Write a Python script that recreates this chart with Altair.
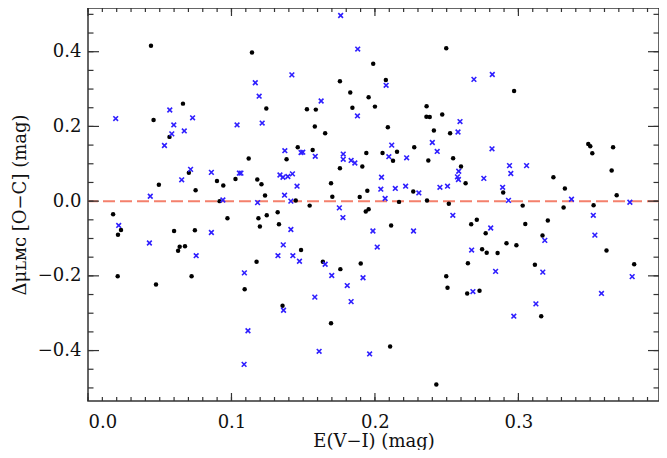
import altair as alt
import pandas as pd

# black filled dots
dot_x = [0.0439, 0.0457, 0.0494, 0.0568, 0.0662, 0.0703, 0.0750, 0.0899, 0.0917, 0.0943,
         0.1028, 0.1120, 0.1143, 0.1180, 0.1209, 0.1234, 0.1243,
         0.1988, 0.1756, 0.2076, 0.1828, 0.1956, 0.1526, 0.1588, 0.1843, 0.2000,
         0.1581, 0.1653, 0.2090, 0.2360, 0.2359, 0.2382, 0.2469, 0.2497, 0.2411,
         0.2524, 0.2274, 0.1462, 0.1566, 0.1384, 0.1940, 0.2053, 0.2154, 0.2126,
         0.2372, 0.2545, 0.2600, 0.2632, 0.1756, 0.1912, 0.1448, 0.1545, 0.1694,
         0.1703, 0.1894, 0.1947, 0.1956, 0.2168, 0.2267, 0.2363, 0.2515,
         0.2970, 0.2894, 0.3030, 0.3244, 0.3324, 0.3315, 0.3487, 0.3501, 0.3515,
         0.3660, 0.3650, 0.3685, 0.3524,
         0.0175, 0.0209, 0.0230, 0.0207, 0.0474, 0.0600, 0.0628, 0.0639, 0.0676,
         0.0745, 0.0722, 0.0972, 0.1188, 0.1198, 0.1246, 0.1175, 0.1092,
         0.1322, 0.1331, 0.1485, 0.1637, 0.1759, 0.1901, 0.1356, 0.1694, 0.2106,
         0.2428, 0.1936, 0.2113, 0.2497, 0.2506,
         0.2671, 0.2710, 0.2772, 0.2747, 0.2779, 0.2855, 0.2917, 0.2986, 0.2648,
         0.2643, 0.2729, 0.3048, 0.3205, 0.3168, 0.3115, 0.3159, 0.3614, 0.3807]
dot_y = [0.416, 0.217, 0.044, 0.172, 0.261, 0.076, 0.029, 0.054, 0.000, 0.042,
         0.059, 0.114, 0.398, 0.058, 0.045, 0.015, 0.248,
         0.368, 0.321, 0.324, 0.291, 0.278, 0.246, 0.245, 0.250, 0.253,
         0.200, 0.182, 0.198, 0.254, 0.226, 0.225, 0.232, 0.409, 0.189,
         0.182, 0.144, 0.144, 0.137, 0.112, 0.129, 0.129, 0.132, 0.108,
         0.109, 0.115, 0.093, 0.048, 0.088, 0.093, 0.002, -0.012, 0.048,
         0.012, 0.011, 0.028, -0.022, -0.002, 0.026, 0.002, -0.007,
         0.295, 0.023, -0.012, 0.064, 0.034, -0.017, 0.153, 0.147, 0.128,
         0.144, 0.082, 0.016, -0.011,
         -0.035, -0.090, -0.077, -0.201, -0.223, -0.080, -0.133, -0.122, -0.121,
         -0.078, -0.201, -0.046, -0.046, -0.068, -0.038, -0.162, -0.236,
         -0.030, -0.062, -0.131, -0.162, -0.182, -0.167, -0.280, -0.327, -0.389,
         -0.491, -0.028, -0.065, -0.201, -0.232,
         -0.062, -0.050, -0.086, -0.129, -0.138, -0.139, -0.113, -0.118, -0.166,
         -0.247, -0.240, -0.061, -0.052, -0.092, -0.170, -0.308, -0.132, -0.169]

# blue crosses
crs_x = [0.0193, 0.0434, 0.0533, 0.0570, 0.0584, 0.0598, 0.0653, 0.0671, 0.0715, 0.0729,
         0.0860, 0.0940, 0.1039, 0.1055, 0.1066, 0.1166, 0.1182, 0.1193, 0.1214,
         0.1761, 0.1880, 0.1421, 0.2078, 0.1625, 0.1878, 0.2593, 0.2579, 0.2400,
         0.2434, 0.1372, 0.1485, 0.1497, 0.1584, 0.1779, 0.1779, 0.1834, 0.1860,
         0.2117, 0.2097, 0.2221, 0.2584, 0.2575, 0.2582, 0.1425, 0.1338, 0.1359,
         0.1393, 0.1457, 0.1370, 0.1414, 0.1752, 0.2046, 0.2041, 0.2071, 0.2142,
         0.2214, 0.2306, 0.2453, 0.2506,
         0.2690, 0.2818, 0.2816, 0.2759, 0.2938, 0.2947, 0.3057, 0.2890, 0.2931,
         0.3370, 0.3777,
         0.0214, 0.0428, 0.0754, 0.0860, 0.1090, 0.1115, 0.1088,
         0.1414, 0.1361, 0.1324, 0.1428, 0.1474, 0.1653, 0.1699, 0.1807, 0.1917,
         0.1581, 0.1834, 0.1363, 0.1611, 0.1963, 0.1777, 0.1986, 0.2016, 0.2269,
         0.2543,
         0.2807, 0.2674, 0.2841, 0.2683, 0.2968, 0.3184, 0.3170, 0.3122, 0.3522,
         0.3533, 0.3579, 0.3793]
crs_y = [0.221, 0.013, 0.149, 0.244, 0.180, 0.204, 0.057, 0.188, 0.085, 0.223,
         0.077, 0.003, 0.204, 0.075, 0.075, 0.317, -0.004, 0.281, 0.209,
         0.497, 0.407, 0.338, 0.310, 0.268, 0.228, 0.213, 0.185, 0.157,
         0.133, 0.135, 0.130, 0.131, 0.120, 0.126, 0.112, 0.109, 0.102,
         0.150, 0.119, 0.116, 0.080, 0.065, 0.058, 0.073, 0.070, 0.064,
         0.066, 0.040, 0.016, 0.000, -0.018, 0.064, 0.032, 0.007, 0.034,
         0.040, 0.022, 0.037, 0.040,
         0.326, 0.339, 0.140, 0.061, 0.095, 0.074, 0.095, 0.037, 0.002,
         0.005, -0.003,
         -0.065, -0.112, -0.146, -0.084, -0.192, -0.347, -0.437,
         -0.076, -0.117, -0.146, -0.146, -0.161, -0.169, -0.199, -0.226, -0.205,
         -0.257, -0.269, -0.292, -0.402, -0.409, -0.044, -0.080, -0.123, -0.080,
         -0.038,
         -0.072, -0.131, -0.188, -0.242, -0.308, -0.105, -0.190, -0.275, -0.038,
         -0.091, -0.247, -0.202]

x_labels = [0.0, 0.1, 0.2, 0.3]
y_labels = [-0.4, -0.2, 0.0, 0.2, 0.4]
x_minor = [i / 100 for i in range(0, 40)]
y_minor = [i / 20 for i in range(-10, 11)]

W, H = 571, 393
FONT = "DejaVu Serif"
FRAME = "#333333"

dots = pd.DataFrame({"x": dot_x, "y": dot_y})
crosses = pd.DataFrame({"x": crs_x, "y": crs_y})

xscale = alt.Scale(domain=[0, 0.398], nice=False, zero=False)
yscale = alt.Scale(domain=[-0.535, 0.517], nice=False, zero=False)

xaxis = alt.Axis(values=x_labels, format=".1f", ticks=False, domain=False, grid=False,
                 labelFont=FONT, labelFontSize=18, labelColor="#111", labelPadding=12,
                 title="E(V−I) (mag)", titleFont=FONT, titleFontSize=18,
                 titleFontWeight="normal", titleColor="#111", titlePadding=1)
yaxis = alt.Axis(values=y_labels, format=".1f", ticks=False, domain=False, grid=False,
                 labelFont=FONT, labelFontSize=18, labelColor="#111", labelPadding=7,
                 title="Δμʟᴍᴄ [O−C] (mag)", titleFont=FONT, titleFontSize=18,
                 titleFontWeight="normal", titleColor="#111", titlePadding=8)

X = alt.X("x:Q", scale=xscale, axis=xaxis)
Y = alt.Y("y:Q", scale=yscale, axis=yaxis)

zero_line = alt.Chart(pd.DataFrame({"y": [0.0]})).mark_rule(
    color="#f4806c", strokeWidth=2, strokeDash=[12, 5]
).encode(y=Y)

dot_layer = alt.Chart(dots).mark_circle(color="black", size=20, opacity=1).encode(x=X, y=Y)
cross_layer = alt.Chart(crosses).mark_point(
    shape="M-1,-1L1,1M-1,1L1,-1", filled=False, color="#2f1fff", size=22,
    strokeWidth=1.6, opacity=1
).encode(x=X, y=Y)

xmaj = pd.DataFrame({"x": x_labels})
xmin = pd.DataFrame({"x": x_minor})
ymaj = pd.DataFrame({"y": y_labels})
ymin = pd.DataFrame({"y": y_minor})

def xt(df, length, bottom):
    y0 = H if bottom else 0
    y1 = H - length if bottom else length
    return alt.Chart(df).mark_rule(color=FRAME, strokeWidth=1.2).encode(
        x=X, y=alt.value(y0), y2=alt.value(y1))

def yt(df, length, left):
    x0 = 0 if left else W
    x1 = length if left else W - length
    return alt.Chart(df).mark_rule(color=FRAME, strokeWidth=1.2).encode(
        y=Y, x=alt.value(x0), x2=alt.value(x1))

ticks = [xt(xmin, 4, True), xt(xmin, 4, False), xt(xmaj, 8, True), xt(xmaj, 8, False),
         yt(ymin, 5.5, True), yt(ymin, 5.5, False), yt(ymaj, 11, True), yt(ymaj, 11, False)]

chart = alt.layer(zero_line, dot_layer, cross_layer, *ticks).properties(
    width=W, height=H,
    autosize=alt.AutoSizeParams(type="none"),
    padding={"left": 80, "top": 0, "right": 0, "bottom": 49},
    background="white",
).configure_view(stroke=FRAME, strokeWidth=1.5)

chart.save("out.html", embed_options={"renderer": "svg", "actions": False})
